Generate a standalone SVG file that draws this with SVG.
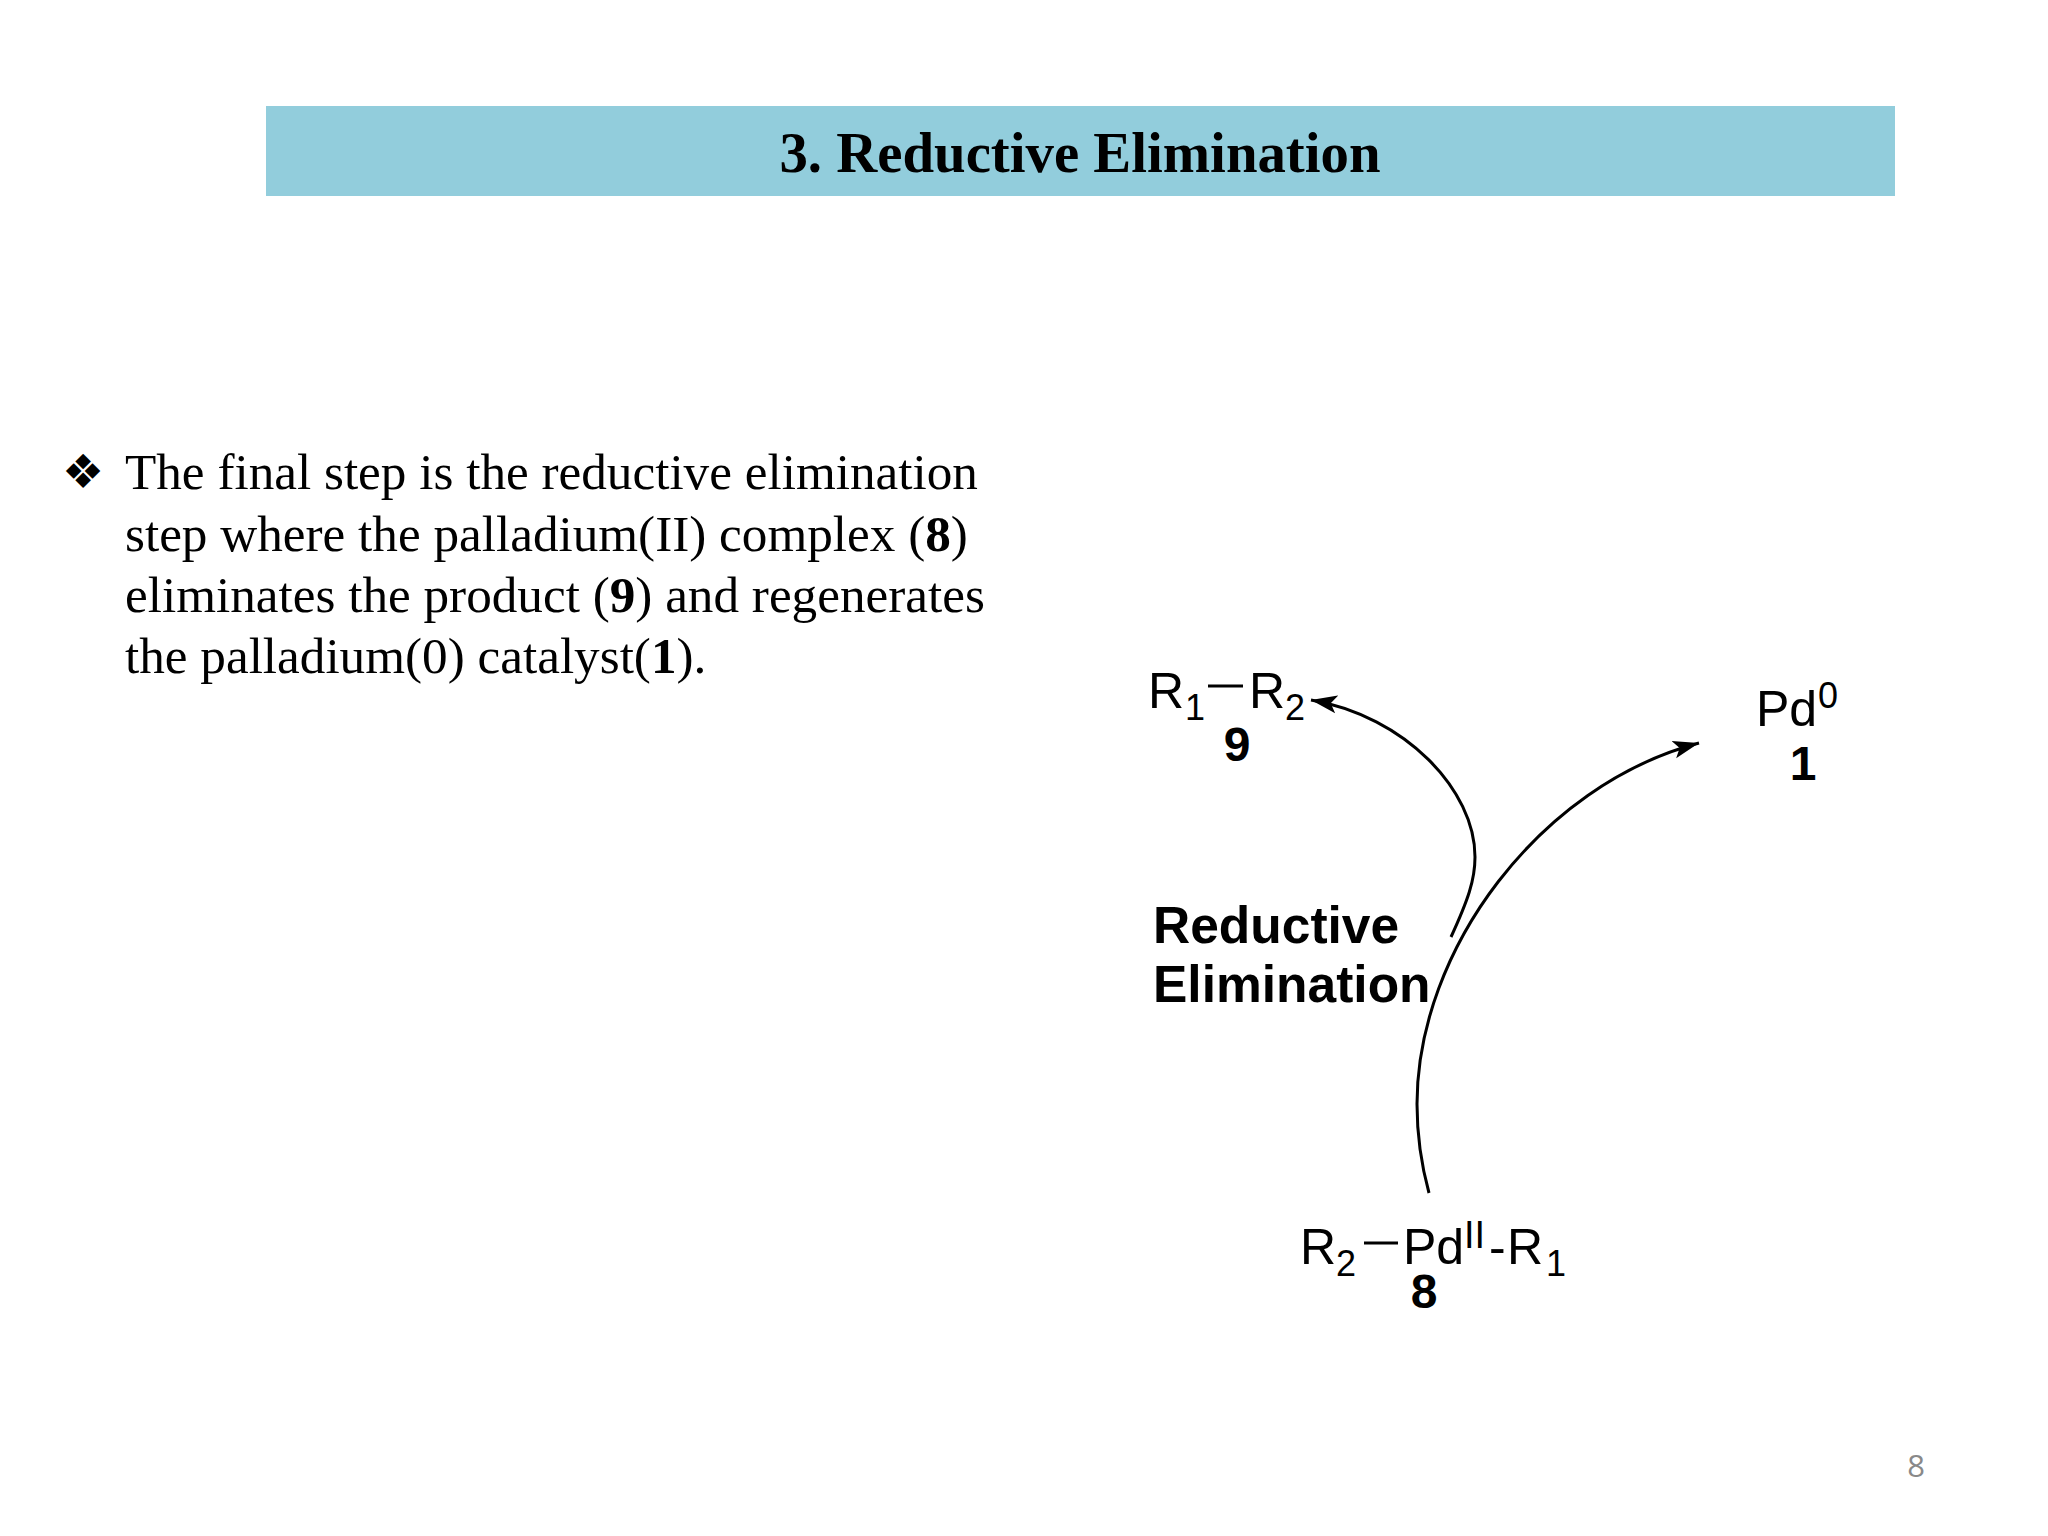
<svg xmlns="http://www.w3.org/2000/svg" width="2048" height="1536" viewBox="0 0 2048 1536">
<style>
.s{font-family:"Liberation Serif",serif;font-size:51.2px;fill:#000}
.a{font-family:"Liberation Sans",Arial,sans-serif;font-size:50px;fill:#000}
.n{font-family:"Liberation Sans",Arial,sans-serif;font-size:48px;font-weight:700;fill:#000;text-anchor:middle}
.b{font-family:"Liberation Sans",Arial,sans-serif;font-size:51.5px;font-weight:700;fill:#000}
.sm{font-size:36px}
.c{fill:none;stroke:#000;stroke-width:3;stroke-linecap:butt}
.l{stroke:#000;stroke-width:3}
</style>
<defs>
<marker id="h" markerUnits="userSpaceOnUse" markerWidth="30" markerHeight="22" viewBox="0 0 30 22" refX="26" refY="11" orient="auto">
<path d="M26,11 L0,2 L6,11 L0,20 Z" fill="#000"/>
</marker>
</defs>
<rect width="2048" height="1536" fill="#fff"/>
<g id="title">
<rect x="266" y="106" width="1629" height="90" fill="#92CDDC"/>
<text x="1080" y="172" font-family="Liberation Serif,serif" font-size="56.8" font-weight="700" text-anchor="middle">3. Reductive Elimination</text>
</g>
<g id="body">
<text x="62" y="488" font-family="DejaVu Sans,sans-serif" font-size="47">❖</text>
<text class="s" x="125" y="489">The final step is the reductive elimination</text>
<text class="s" x="125" y="551">step where the palladium(II) complex (<tspan font-weight="700">8</tspan>)</text>
<text class="s" x="125" y="612">eliminates the product (<tspan font-weight="700">9</tspan>) and regenerates</text>
<text class="s" x="125" y="673">the palladium(0) catalyst(<tspan font-weight="700">1</tspan>).</text>
</g>
<g id="connectors">
<path class="c" marker-end="url(#h)" d="M1451,937 C1468,900 1475,880 1475,857 C1475,790 1405,716 1311,700"/>
<path class="c" marker-end="url(#h)" d="M1429,1193 C1420,1160 1417,1130 1417,1104 C1417,950 1540,785 1699,743"/>
</g>
<g id="node-9">
<text class="a" x="1148" y="708">R</text><text class="a sm" x="1185" y="720">1</text>
<line class="l" x1="1208" y1="686" x2="1243" y2="686"/>
<text class="a" x="1249" y="708">R</text><text class="a sm" x="1285" y="720">2</text>
<text class="n" x="1237" y="761">9</text>
</g>
<g id="node-1">
<text class="a" x="1756" y="726">Pd</text><text class="a sm" x="1818" y="708">0</text>
<text class="n" x="1803" y="780">1</text>
</g>
<g id="node-8">
<text class="a" x="1300" y="1264">R</text><text class="a sm" x="1336" y="1276">2</text>
<line class="l" x1="1364" y1="1243" x2="1398" y2="1243"/>
<text class="a" x="1403" y="1264">Pd</text><text class="a" style="font-size:38px" x="1464" y="1248">II</text>
<text class="a" x="1489" y="1264">-</text><text class="a" x="1507" y="1264">R</text><text class="a sm" x="1546" y="1276">1</text>
<text class="n" x="1424" y="1308">8</text>
</g>
<g id="label">
<text class="b" x="1153" y="943">Reductive</text>
<text class="b" x="1153" y="1002">Elimination</text>
</g>
<text id="page" x="1916" y="1477" font-family="Open Sans,sans-serif" font-size="31" fill="#898989" text-anchor="middle">8</text>
</svg>
